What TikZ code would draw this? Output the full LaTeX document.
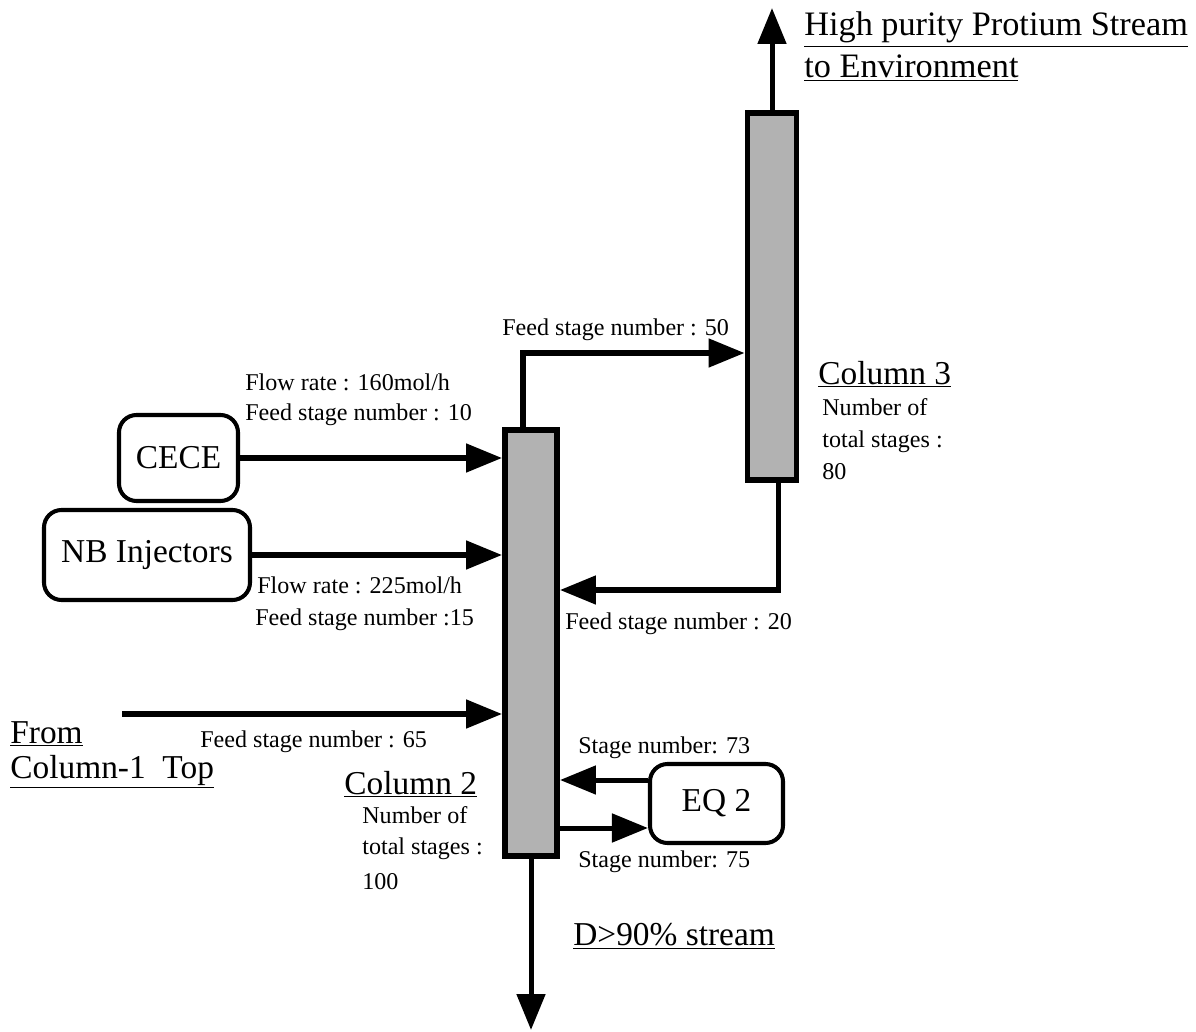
\documentclass[tikz,border=0pt]{standalone}
\usepackage{fontspec}
\setmainfont{Liberation Serif}
\usepackage{tikz}
\usetikzlibrary{arrows.meta,positioning,calc}
\newcommand{\grande}{\fontsize{19}{23}\selectfont}
\newcommand{\piccolo}{\fontsize{13.7}{16}\selectfont}
\tikzset{
  colonna/.style={rectangle,draw,line width=3.4pt,fill=black!30,inner sep=0pt},
  unita/.style={rectangle,draw,rounded corners=0.35cm,line width=2.3pt,inner sep=0pt,font=\grande},
  flusso/.style={line width=2.85pt,-{Triangle[length=0.72cm,width=0.56cm]}},
  etich/.style={anchor=base west,inner sep=0pt,font=\piccolo},
  titolo/.style={anchor=base west,inner sep=0pt,font=\grande}
}
\begin{document}
\begin{tikzpicture}
  \useasboundingbox (0,0) rectangle (23.92,-20.64);
  % colonne
  \node[colonna,minimum width=1.04cm,minimum height=8.52cm] (col2) at (10.62,-12.86) {};
  \node[colonna,minimum width=0.98cm,minimum height=7.34cm] (col3) at (15.44,-5.93) {};
  % unita
  \node[unita,minimum width=2.38cm,minimum height=1.72cm] (cece) at (3.57,-9.16) {CECE};
  \node[unita,minimum width=4.12cm,minimum height=1.8cm] (nbinj) at (2.94,-11.1) {NB Injectors};
  \node[unita,minimum width=2.66cm,minimum height=1.58cm] (eq) at (14.33,-16.07) {EQ 2};
  \coordinate (c1) at (2.44,-14.28);
  \coordinate (f50) at (0,-7.06);
  \coordinate (r20) at (0,-11.8);
  \coordinate (top) at (0,-0.16);
  \coordinate (bot) at (0,-20.6);
  % flussi
  \draw[flusso] (cece.east) -- (cece.east -| col2.west);
  \draw[flusso] (nbinj.east) -- (nbinj.east -| col2.west);
  \draw[flusso] (c1) -- (c1 -| col2.west);
  \draw[flusso] ([xshift=-0.16cm]col2.north) |- (col3.west |- f50);
  \draw[flusso] ([xshift=0.12cm]col3.south) |- (col2.east |- r20);
  \draw[flusso] ([yshift=0.47cm]eq.west) -- ([yshift=0.47cm]eq.west -| col2.east);
  \draw[flusso] ([yshift=-0.49cm]eq.west -| col2.east) -- ([yshift=-0.49cm]eq.west);
  \draw[flusso] (col3.north) -- (col3.north |- top);
  \draw[flusso] (col2.south) -- (col2.south |- bot);
  % testi
  \node[titolo,font=\fontsize{19.5}{23}\selectfont] (tprot) at (16.08,-0.72) {\underline{High purity Protium Stream}};
  \node[titolo,font=\fontsize{19.5}{23}\selectfont] (tenv) at (16.08,-1.56) {\underline{to Environment}};
  \node[titolo] (tcol3) at (16.36,-7.68) {\underline{Column 3}};
  \node[etich] (n3a) at (16.44,-8.3) {Number of};
  \node[etich] (n3b) at (16.44,-8.94) {total stages :};
  \node[etich] (n3c) at (16.44,-9.58) {80};
  \node[etich] (l50) at (10.04,-6.7) {Feed stage number : 50};
  \node[etich] (l160) at (4.9,-7.8) {Flow rate : 160mol/h};
  \node[etich] (l10) at (4.9,-8.4) {Feed stage number : 10};
  \node[etich] (l225) at (5.14,-11.86) {Flow rate : 225mol/h};
  \node[etich] (l15) at (5.1,-12.5) {Feed stage number :15};
  \node[etich] (l20) at (11.3,-12.58) {Feed stage number : 20};
  \node[etich] (l65) at (4.0,-14.94) {Feed stage number : 65};
  \node[titolo] (tfrom) at (0.2,-14.86) {\underline{From}};
  \node[titolo] (tc1) at (0.2,-15.56) {\underline{Column-1\ \ Top}};
  \node[titolo] (tcol2) at (6.88,-15.88) {\underline{Column 2}};
  \node[etich] (n2a) at (7.24,-16.46) {Number of};
  \node[etich] (n2b) at (7.24,-17.08) {total stages :};
  \node[etich] (n2c) at (7.24,-17.78) {100};
  \node[etich] (l73) at (11.56,-15.06) {Stage number: 73};
  \node[etich] (l75) at (11.56,-17.34) {Stage number: 75};
  \node[titolo] (tdout) at (11.46,-18.9) {\underline{D>90\% stream}};
\end{tikzpicture}
\end{document}
